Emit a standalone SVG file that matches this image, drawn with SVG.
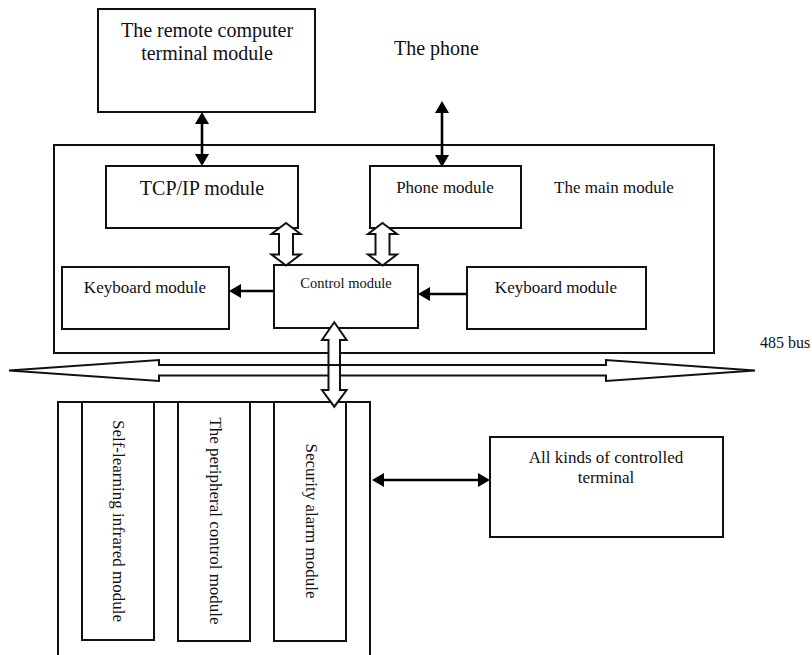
<svg xmlns="http://www.w3.org/2000/svg" width="812" height="655" viewBox="0 0 812 655">
<defs>
<style>
text{font-family:"Liberation Serif","Times New Roman",serif;fill:#111}
.box{fill:#fff;stroke:#111;stroke-width:2}
.hollow{fill:#fff;stroke:#111;stroke-width:2;stroke-linejoin:miter}
.conn{stroke:#000;stroke-width:2.6;fill:none}
.t20{font-size:20px}
.t17{font-size:17px}
.mid{text-anchor:middle}
</style>
<marker id="ah" viewBox="0 0 12 14" refX="4" refY="7" markerWidth="12" markerHeight="14" markerUnits="userSpaceOnUse" orient="auto-start-reverse">
<path d="M0,0 L12,7 L0,14 z" fill="#000"/>
</marker>
</defs>
<rect width="812" height="655" fill="#fff"/>

<g id="remote">
<rect class="box" x="98" y="9" width="217" height="103"/>
<text class="t20 mid" x="207" y="37">The remote computer</text>
<text class="t20 mid" x="207" y="60">terminal module</text>
</g>

<g id="phone-label">
<text class="t20" x="394" y="55">The phone</text>
</g>

<g id="main">
<rect class="box" x="54" y="145" width="660" height="208"/>
<text class="t17" x="554" y="193">The main module</text>
</g>

<g id="tcpip">
<rect class="box" x="106" y="166" width="192" height="62"/>
<text class="t20 mid" x="202" y="195">TCP/IP module</text>
</g>

<g id="phone-module">
<rect class="box" x="370" y="166" width="151" height="62"/>
<text class="t17 mid" x="445" y="193">Phone module</text>
</g>

<g id="keyboard-left">
<rect class="box" x="62" y="267" width="167" height="62"/>
<text class="t17 mid" x="145" y="293">Keyboard module</text>
</g>

<g id="control">
<rect class="box" x="274" y="265" width="144" height="63"/>
<text class="mid" style="font-size:14.5px" x="346" y="288">Control module</text>
</g>

<g id="keyboard-right">
<rect class="box" x="467" y="267" width="179" height="62"/>
<text class="t17 mid" x="556" y="293">Keyboard module</text>
</g>

<g id="bus">
<polygon class="hollow" points="9,370.5 159,360 159,365 606,365 606,360 755,370.5 606,381 606,375.5 159,375.5 159,381"/>
<text style="font-size:16px" x="760" y="348">485 bus</text>
</g>

<g id="bottom-container">
<rect class="box" x="58" y="402" width="312" height="270"/>
</g>

<g id="self-learning">
<rect class="box" x="82" y="402" width="72" height="238"/>
<text class="t17 mid" transform="translate(113,521) rotate(90)">Self-learning infrared module</text>
</g>

<g id="peripheral">
<rect class="box" x="178" y="402" width="72" height="239"/>
<text class="t17 mid" transform="translate(210,521) rotate(90)">The peripheral control module</text>
</g>

<g id="security">
<rect class="box" x="274" y="402" width="72" height="239"/>
<text class="t17 mid" transform="translate(305.5,521) rotate(90)">Security alarm module</text>
</g>

<g id="terminal">
<rect class="box" x="490" y="437" width="233" height="100"/>
<text class="t17 mid" x="606" y="463">All kinds of controlled</text>
<text class="t17 mid" x="606" y="483">terminal</text>
</g>

<g id="connectors">
<line class="conn" x1="202" y1="120" x2="202" y2="158" marker-start="url(#ah)" marker-end="url(#ah)"/>
<line class="conn" x1="442" y1="109" x2="442" y2="159" marker-start="url(#ah)" marker-end="url(#ah)"/>
<line class="conn" x1="274" y1="291" x2="237" y2="291" marker-end="url(#ah)"/>
<line class="conn" x1="467" y1="294" x2="426" y2="294" marker-end="url(#ah)"/>
<line class="conn" x1="380" y1="480" x2="482" y2="480" marker-start="url(#ah)" marker-end="url(#ah)"/>
<polygon class="hollow" points="286,223 300.5,234 293,234 293,254.5 300.5,254.5 286,265.5 271.5,254.5 279,254.5 279,234 271.5,234"/>
<polygon class="hollow" points="382.5,223 397,234 389.5,234 389.5,254.5 397,254.5 382.5,265.5 368,254.5 375.5,254.5 375.5,234 368,234"/>
<polygon class="hollow" points="334.3,322.3 346.6,340 340,340 340,390 346.6,390 334.3,406.7 322,390 328.5,390 328.5,340 322,340"/>
<line x1="328.5" y1="365" x2="340" y2="365" stroke="#111" stroke-width="2"/>
</g>
</svg>
